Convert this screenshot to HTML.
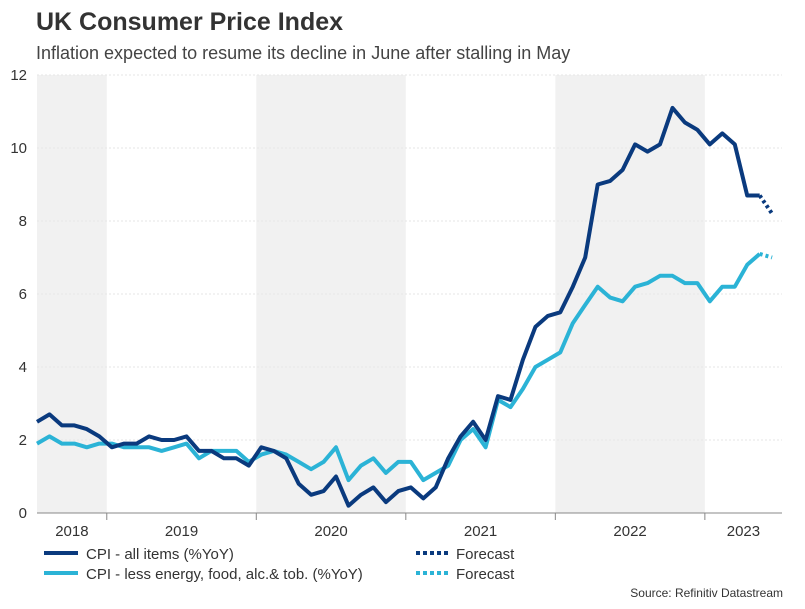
<!DOCTYPE html>
<html><head><meta charset="utf-8"><style>
body{margin:0;background:#fff;font-family:"Liberation Sans",sans-serif;}
svg text{font-family:"Liberation Sans",sans-serif;}
</style></head><body>
<svg id="chart" width="805" height="604" viewBox="0 0 805 604">
<text x="36" y="30" font-size="25" font-weight="bold" fill="#333">UK Consumer Price Index</text>
<text x="36" y="59" font-size="18" fill="#444">Inflation expected to resume its decline in June after stalling in May</text>
<g id="bands"></g><g id="grid"></g><g id="axes"></g><g id="series"></g>
<g>
<line x1="44" y1="553" x2="78" y2="553" stroke="#0a3a7e" stroke-width="4"/>
<text x="86" y="559" font-size="15" fill="#333">CPI - all items (%YoY)</text>
<line x1="44" y1="573" x2="78" y2="573" stroke="#2bb3d6" stroke-width="4"/>
<text x="86" y="579" font-size="15" fill="#333">CPI - less energy, food, alc.&amp; tob. (%YoY)</text>
<line x1="416" y1="553" x2="450" y2="553" stroke="#0a3a7e" stroke-width="4" stroke-dasharray="4,3"/>
<text x="456" y="559" font-size="15" fill="#333">Forecast</text>
<line x1="416" y1="573" x2="450" y2="573" stroke="#2bb3d6" stroke-width="4" stroke-dasharray="4,3"/>
<text x="456" y="579" font-size="15" fill="#333">Forecast</text>
</g>
<text x="783" y="597" font-size="12" fill="#333" text-anchor="end">Source: Refinitiv Datastream</text>
</svg>
<script>
const cpi=[2.5,2.7,2.4,2.4,2.3,2.1,1.8,1.9,1.9,2.1,2.0,2.0,2.1,1.7,1.7,1.5,1.5,1.3,1.8,1.7,1.5,0.8,0.5,0.6,1.0,0.2,0.5,0.7,0.3,0.6,0.7,0.4,0.7,1.5,2.1,2.5,2.0,3.2,3.1,4.2,5.1,5.4,5.5,6.2,7.0,9.0,9.1,9.4,10.1,9.9,10.1,11.1,10.7,10.5,10.1,10.4,10.1,8.7,8.7];
const core=[1.9,2.1,1.9,1.9,1.8,1.9,1.9,1.8,1.8,1.8,1.7,1.8,1.9,1.5,1.7,1.7,1.7,1.4,1.6,1.7,1.6,1.4,1.2,1.4,1.8,0.9,1.3,1.5,1.1,1.4,1.4,0.9,1.1,1.3,2.0,2.3,1.8,3.1,2.9,3.4,4.0,4.2,4.4,5.2,5.7,6.2,5.9,5.8,6.2,6.3,6.5,6.5,6.3,6.3,5.8,6.2,6.2,6.8,7.1];
const cpiForecast=[8.2];
const coreForecast=[7.0];
const yearLabels=["2018","2019","2020","2021","2022","2023"];
const yTicks=[0,2,4,6,8,10,12];
const NS="http://www.w3.org/2000/svg";
const x0=37,dx=12.46,yBase=513,yScale=36.5,xEnd=782;
const X=i=>x0+i*dx, Y=v=>yBase-v*yScale;
function mk(tag,attrs,parent){const e=document.createElementNS(NS,tag);for(const k in attrs)e.setAttribute(k,attrs[k]);parent.appendChild(e);return e;}
const bands=document.getElementById('bands'),grid=document.getElementById('grid'),axes=document.getElementById('axes'),series=document.getElementById('series');
const bounds=[x0];for(let k=0;k<5;k++)bounds.push(X(5.6+12*k));bounds.push(xEnd);
yearLabels.forEach((yl,k)=>{
  const a=bounds[k],b=bounds[k+1];
  if(k%2===0){const r=mk('rect',{x:a,y:Y(12),width:b-a,height:Y(0)-Y(12),fill:'#f1f1f1'},bands);
    
    }
  const t=mk('text',{x:(a+b)/2,y:536,'font-size':15,fill:'#333','text-anchor':'middle'},axes);t.textContent=yl;
  
  
  if(k>0){const tk=mk('line',{x1:a,x2:a,y1:yBase,y2:yBase+7,stroke:'#888'},axes);
    
    }
});
yTicks.forEach(v=>{
  if(v>0){const g=mk('line',{x1:x0,x2:xEnd,y1:Y(v),y2:Y(v),stroke:'#e6e6e6','stroke-dasharray':'2,2'},grid);
    
    }
  const t=mk('text',{x:27,y:Y(v)+5,'font-size':15,fill:'#333','text-anchor':'end'},axes);t.textContent=v;
  
  
});
const ax=mk('line',{x1:x0,x2:xEnd,y1:yBase,y2:yBase,stroke:'#888'},axes);


function line(data,start,color,dash,name){
  const pts=data.map((v,i)=>X(start+i).toFixed(1)+','+Y(v).toFixed(1)).join(' ');
  const p=mk('polyline',{points:pts,fill:'none',stroke:color,'stroke-width':4,'stroke-linejoin':'round'},series);
  if(dash)p.setAttribute('stroke-dasharray','3,3');
  
  
}
line(core,0,'#2bb3d6',false,'core-cpi-line');
line(cpi,0,'#0a3a7e',false,'cpi-line');
line([core[core.length-1]].concat(coreForecast),core.length-1,'#2bb3d6',true,'core-cpi-forecast-line');
line([cpi[cpi.length-1]].concat(cpiForecast),cpi.length-1,'#0a3a7e',true,'cpi-forecast-line');
</script>
</body></html>
